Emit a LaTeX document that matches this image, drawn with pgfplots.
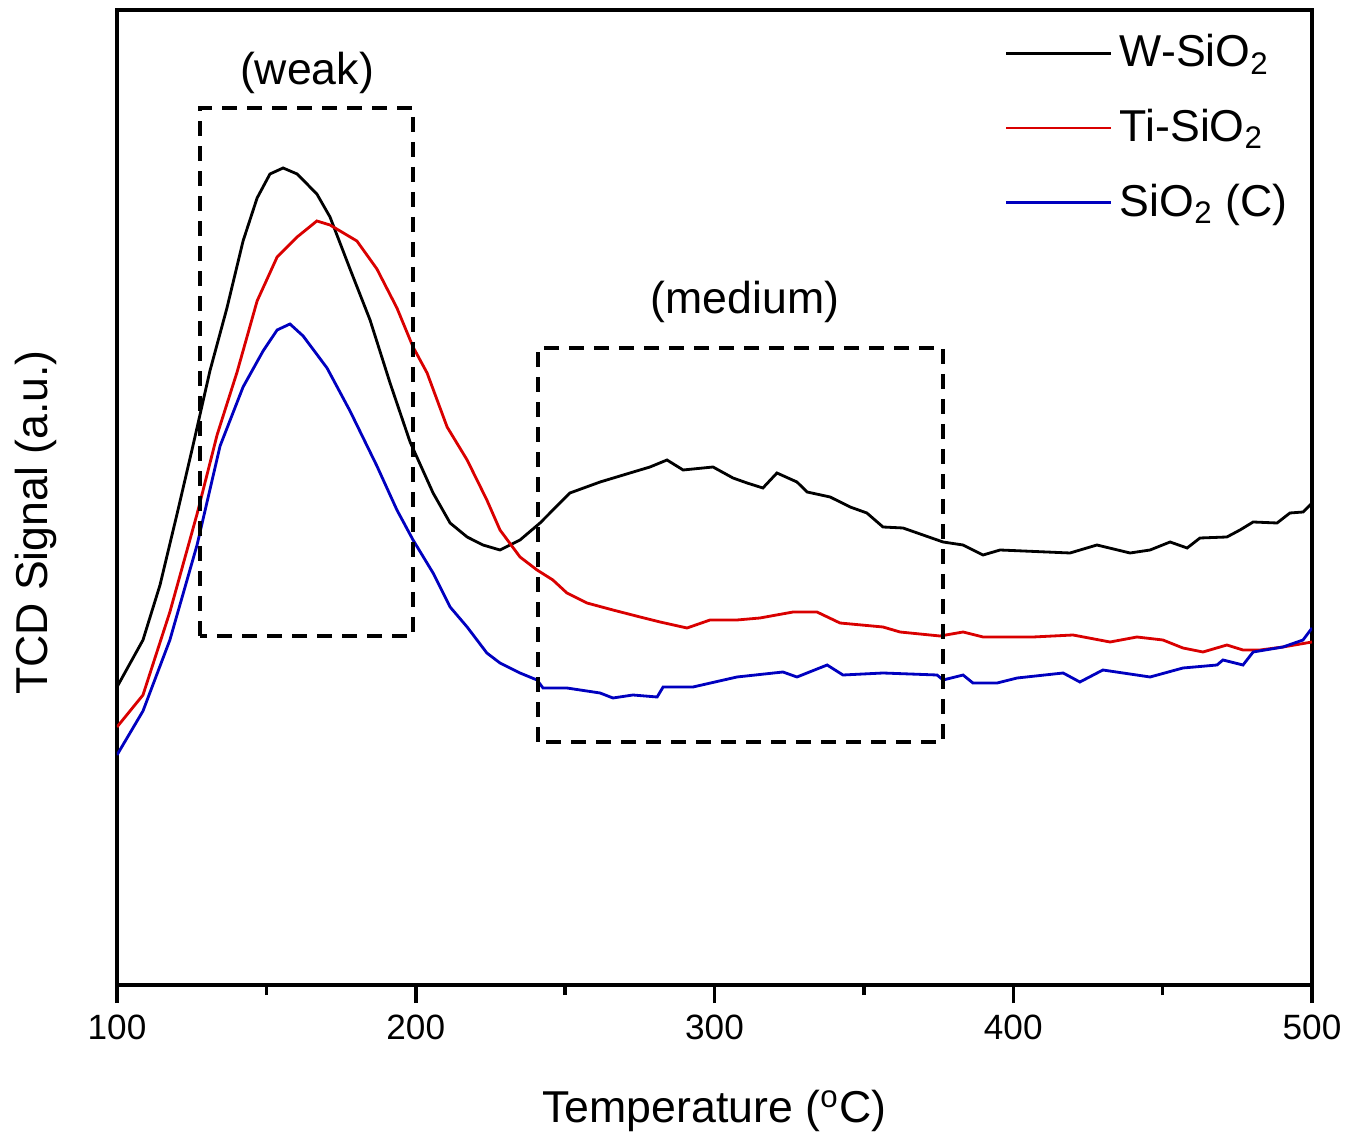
\documentclass[border=0pt]{standalone}
\usepackage{fontspec}
\setmainfont{Liberation Sans}
\usepackage{pgfplots}
\pgfplotsset{compat=1.18}

\pgfplotstableread{
T y
100.0 298
108.7 345
114.4 400
120.1 471
125.4 539
131.1 614
136.8 677
142.2 744
146.9 787
151.2 811
155.6 817
160.3 811
166.9 791
171.3 768
178.0 716
184.7 665
191.4 602
198.1 543
205.8 492
211.5 462
217.2 448
222.5 440
228.2 435
234.9 445
241.6 462
251.6 492
261.7 503
271.7 512
278.4 518
284.1 525
289.5 515
299.5 518
306.2 507
310.9 502
316.2 497
320.9 512
327.6 503
331.0 493
338.7 488
345.4 478
351.0 472
356.4 458
363.1 457
369.8 450
376.5 443
383.2 440
389.9 430
395.6 435
419.0 432
428.0 440
439.1 432
445.8 435
452.5 443
458.2 437
462.5 447
471.5 448
475.9 455
480.3 463
488.3 462
492.6 472
497.0 473
500.0 482
}\wsio

\pgfplotstableread{
T y
100.0 258
108.7 290
117.7 373
126.8 471
133.5 550
140.2 613
146.9 684
153.6 728
160.3 748
166.9 764
171.3 760
180.3 744
187.0 716
193.7 677
199.1 638
203.8 612
210.5 558
217.2 525
223.8 485
228.2 455
234.9 428
240.6 415
245.9 405
250.6 392
257.3 382
266.0 375
275.1 368
281.8 363
290.8 357
298.5 365
307.5 365
315.2 367
326.3 373
334.3 373
342.0 362
356.4 358
362.1 353
375.5 349
383.2 353
389.9 348
406.6 348
420.0 350
432.4 343
441.4 348
450.1 345
456.8 337
463.5 333
471.5 340
476.9 335
482.6 335
490.3 338
500.0 343
}\tisio

\pgfplotstableread{
T y
100.0 230
108.7 274
117.7 345
126.8 440
134.5 539
142.2 598
148.9 634
153.6 655
157.9 661
162.3 649
170.3 617
178.0 574
187.0 519
193.7 475
199.1 445
205.8 412
211.5 378
217.2 358
223.8 332
228.2 322
234.9 312
240.6 305
242.6 297
250.6 297
261.7 292
266.0 287
272.7 290
280.8 288
282.8 298
292.8 298
307.5 308
322.9 313
327.6 308
337.7 320
343.0 310
356.4 312
374.5 310
376.5 305
383.2 310
386.5 302
394.6 302
401.3 307
416.7 312
422.3 303
430.0 315
445.8 308
456.8 317
468.2 320
470.2 325
476.9 320
480.3 333
490.3 338
497.0 345
500.0 357
}\sioc

\begin{document}
\begin{tikzpicture}
  \path[use as bounding box] (-1.17cm,-1.55cm) rectangle (12.43cm,9.85cm);
  \begin{axis}[
    width=11.95cm, height=9.75cm, scale only axis,
    xmin=100, xmax=500, ymin=0, ymax=975,
    axis line style={line width=1pt},
    xtick={100,200,300,400,500},
    minor xtick={150,250,350,450},
    ytick=\empty,
    xtick pos=bottom,
    tick align=outside,
    major tick length=1.8mm, minor tick length=1mm,
    every tick/.style={black, line width=1pt},
    /pgf/number format/assume math mode=true,
    xticklabel style={font=\fontsize{10}{12}\selectfont},
    label style={font=\fontsize{12.7}{15}\selectfont},
    xlabel={Temperature (\textsuperscript{o}C)},
    ylabel={TCD Signal (a.u.)},
    xlabel style={yshift=-2.6mm},
    ylabel style={yshift=3mm, xshift=-2.5mm},
    legend style={draw=none, fill=none, at={(0.995,0.99)}, anchor=north east,
      font=\fontsize{12.7}{15}\selectfont, row sep=2.3mm,
      /tikz/every odd column/.append style={column sep=0pt}},
    legend cell align=left,
    legend image code/.code={\draw[#1] (0cm,0cm) -- (1.05cm,0cm);},
  ]
    \addplot[black, line width=0.8pt] table[x=T, y=y] {\wsio};
    \addlegendentry{W-SiO\textsubscript{2}}
    \addplot[red!85!black, line width=0.8pt] table[x=T, y=y] {\tisio};
    \addlegendentry{Ti-SiO\textsubscript{2}}
    \addplot[blue!75!black, line width=0.8pt] table[x=T, y=y] {\sioc};
    \addlegendentry{SiO\textsubscript{2} (C)}

    \draw[dash pattern=on 1.5mm off 1mm, line width=0.9pt]
      (axis cs:127.8,349) rectangle (axis cs:199.1,877);
    \draw[dash pattern=on 1.5mm off 1mm, line width=0.9pt]
      (axis cs:240.9,243) rectangle (axis cs:376.5,637);
    \node[font=\fontsize{12.7}{15}\selectfont] at (axis cs:163.6,912) {(weak)};
    \node[font=\fontsize{12.7}{15}\selectfont] at (axis cs:310.2,683) {(medium)};
  \end{axis}
\end{tikzpicture}
\end{document}
